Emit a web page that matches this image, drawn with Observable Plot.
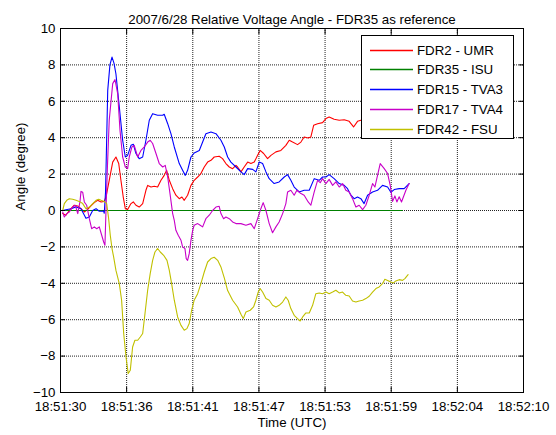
<!DOCTYPE html>
<html>
<head>
<meta charset="utf-8">
<script src="https://cdn.jsdelivr.net/npm/d3@7"></script>
<script src="https://cdn.jsdelivr.net/npm/@observablehq/plot@0.6"></script>
<style>
  html, body { margin: 0; padding: 0; background: #fff; }
  #chart { position: relative; width: 556px; height: 435px; }
</style>
</head>
<body>
<div id="chart"></div>
<script>
// ---- data (seconds after 18:51:30 UTC, angle in degrees) ----
const titleText = "2007/6/28 Relative Voltage Angle - FDR35 as reference";
const xLabel = "Time (UTC)";
const yLabel = "Angle (degree)";
const xTickLabels = ["18:51:30","18:51:36","18:51:41","18:51:47","18:51:53","18:51:59","18:52:04","18:52:10"];
const xTickSeconds = [0, 5.714, 11.429, 17.143, 22.857, 28.571, 34.286, 40];
const yTicks = [-10,-8,-6,-4,-2,0,2,4,6,8,10];

const seriesNames = ["FDR2 - UMR","FDR35 - ISU","FDR15 - TVA3","FDR17 - TVA4","FDR42 - FSU"];
const seriesColors = ["#ff0000","#008000","#0000ff","#c800c8","#c0c000"];

const fdr2T = [0.19,0.47,0.76,1.19,1.49,1.77,2.06,2.35,2.63,2.92,3.21,3.5,3.78,3.93,4.21,4.51,4.79,5.03,5.22,5.42,5.6,5.8,6.09,6.29,6.52,6.8,7.1,7.38,7.53,7.82,8.1,8.39,8.68,8.96,9.17,9.4,9.69,9.97,10.26,10.49,10.69,10.98,11.27,11.55,11.85,12.13,12.42,12.71,13.0,13.28,13.71,14.0,14.29,14.58,14.87,15.16,15.3,15.59,15.87,16.17,16.45,16.74,17.03,17.25,17.55,17.89,18.18,18.61,19.04,19.47,19.76,20.05,20.48,20.77,21.05,21.4,21.63,21.87,22.21,22.64,22.93,23.21,23.64,24.08,24.51,24.94,25.32,25.66,25.95,27.0,28.5,30.1];
const fdr2V = [-0.17,-0.26,0,0.29,0.25,0.1,-0.08,0.06,0.25,0.43,0.56,0.47,0.5,0.74,1.66,2.66,2.94,2.58,1.66,0.74,0.1,0.05,0.38,0.47,0.29,0.19,0.38,1.11,1.38,1.29,1.33,1.29,1.66,1.93,2.21,1.66,1.2,0.84,0.65,0.74,0.56,0.84,1.38,1.66,1.84,2.03,2.39,2.66,2.76,2.94,2.98,2.85,2.58,2.39,2.3,2.48,2.39,2.12,2.39,2.66,2.58,2.66,3.03,3.3,3.13,2.85,3.03,3.22,3.3,3.58,3.86,3.76,3.62,3.76,4.04,3.98,4.04,4.68,4.77,4.83,5.05,5.14,5.01,4.96,4.99,4.9,4.59,4.9,4.96,5.0,5.1,5.0];

const fdr35T = [0.19, 29.53];
const fdr35V = [0, 0];

const fdr15T = [0.19,0.47,0.91,1.34,1.77,2.2,2.49,2.78,3.07,3.35,3.73,3.78,3.89,4.08,4.27,4.45,4.62,4.79,5.08,5.37,5.6,5.8,6.09,6.29,6.52,6.8,7.1,7.38,7.67,7.96,8.39,8.83,8.96,9.26,9.54,9.83,10.26,10.55,10.78,10.98,11.27,11.55,11.99,12.28,12.56,13.0,13.43,13.86,14.15,14.44,14.72,15.16,15.59,15.87,16.17,16.6,16.88,17.17,17.46,17.75,18.03,18.46,18.89,19.33,19.62,19.9,20.19,20.62,21.05,21.49,21.92,22.35,22.64,22.93,23.21,23.64,24.08,24.51,24.8,25.09,25.37,25.66,25.95,26.23,26.53,26.96,27.39,27.82,28.26,28.54,28.83,29.26,29.69,30.12];
const fdr15V = [0,0.04,0.1,0.2,0.1,-0.43,-0.36,0,0.1,-0.04,-0.04,-0.15,1.0,6.6,8.0,8.43,8.1,7.5,5.7,3.86,2.94,3.03,3.58,3.64,3.13,2.85,2.94,3.86,4.96,5.32,5.23,5.23,5.29,4.77,4.22,3.49,2.58,2.21,1.93,2.21,2.94,3.16,3.3,3.76,4.22,4.31,4.22,3.86,3.49,2.94,2.66,2.39,2.12,1.97,2.3,2.26,2.12,2.66,2.58,2.12,1.75,1.48,1.57,1.84,1.97,1.66,1.29,1.02,1.11,1.11,1.75,1.66,1.84,1.84,1.97,1.75,1.48,1.38,1.2,0.84,0.65,0.74,0.65,0.38,0.84,1.02,1.11,1.38,1.29,1.0,1.15,1.2,1.2,1.48];

const fdr17T = [0.19,0.33,0.54,0.76,1.05,1.28,1.49,1.68,1.77,1.92,2.06,2.26,2.49,2.69,2.92,3.13,3.35,3.56,3.73,3.84,3.93,4.06,4.21,4.51,4.71,4.94,5.14,5.37,5.6,5.8,5.94,6.17,6.37,6.67,6.95,7.24,7.53,7.75,7.96,8.25,8.53,8.83,9.05,9.26,9.46,9.69,9.83,9.97,10.17,10.41,10.55,10.75,10.86,10.98,11.12,11.27,11.42,11.55,11.85,12.07,12.28,12.56,12.85,13.14,13.43,13.71,13.86,14.09,14.29,14.58,14.87,15.16,15.59,16.02,16.45,16.74,17.03,17.31,17.51,17.75,18.03,18.32,18.61,18.89,19.19,19.47,19.62,19.9,20.19,20.42,20.77,21.05,21.4,21.63,21.92,22.21,22.44,22.64,22.93,23.21,23.51,23.79,24.08,24.37,24.65,24.94,25.23,25.52,25.8,26.1,26.38,26.67,26.96,27.16,27.39,27.62,27.97,28.26,28.48,28.69,28.89,29.06,29.26,29.46,29.84,30.12];
const fdr17V = [-0.08,-0.36,-0.17,-0.08,0.19,0.29,-0.17,0.47,1.05,1.0,0.47,0.29,-0.45,-1.0,-0.9,-1.0,-0.9,-1.36,-1.73,-1.91,0,2.5,4.96,6.97,7.19,6.42,4.41,2.94,2.39,2.3,2.94,3.49,3.58,2.94,3.3,3.49,3.76,3.86,3.68,3.13,2.58,2.39,2.48,1.84,0.93,-0.17,-0.54,-1.09,-1.36,-1.64,-2.0,-2.09,-2.64,-2.74,-2.37,-1.64,-1.09,-0.81,-0.72,-0.81,-0.9,-0.45,-0.26,0,0.19,0.23,-0.17,-0.45,-0.36,-0.45,-0.63,-0.72,-0.72,-0.81,-0.72,-1.0,-0.45,0.1,0.43,0,-0.72,-1.22,-0.9,-0.63,-0.17,0.38,1.02,1.11,0.84,1.11,0.93,0.84,0.47,0.29,1.02,1.66,1.53,1.75,1.48,1.71,1.38,1.57,1.29,1.48,1.11,1.02,0.65,0.19,0.29,0.05,0.29,0.84,1.48,1.29,1.93,2.58,2.3,2.03,1.4,0.5,0.8,0.47,0.75,0.47,1.11,1.48];

const fdr42T = [0.19,0.33,0.54,0.76,1.05,1.34,1.62,1.92,2.2,2.49,2.78,3.07,3.3,3.5,3.78,3.99,4.16,4.3,4.45,4.59,4.79,5.08,5.28,5.46,5.66,5.85,6.03,6.23,6.43,6.67,6.89,7.1,7.3,7.53,7.75,7.96,8.16,8.39,8.62,8.91,9.2,9.4,9.6,9.83,10.12,10.41,10.69,10.92,11.12,11.33,11.55,11.85,12.13,12.42,12.71,13.0,13.28,13.58,13.86,14.15,14.44,14.87,15.3,15.59,15.79,16.02,16.39,16.68,16.88,17.08,17.25,17.46,17.75,18.03,18.32,18.61,18.89,19.19,19.47,19.67,19.9,20.19,20.48,20.71,20.92,21.2,21.49,21.78,22.06,22.35,22.64,22.93,23.21,23.51,23.79,24.08,24.37,24.65,24.94,25.23,25.52,25.8,26.1,26.38,26.67,26.96,27.25,27.53,27.82,28.02,28.26,28.54,28.77,28.97,29.26,29.55,29.75,30.03];
const fdr42V = [0,0.38,0.56,0.65,0.62,0.56,0.5,0.38,0.1,0.19,0.38,0.56,0.62,0.56,0.5,0.38,-0.45,-1.36,-2.09,-2.55,-3.29,-4.02,-4.93,-6.76,-8.05,-8.96,-8.78,-7.5,-7.13,-7.13,-6.95,-6.76,-5.66,-4.38,-3.47,-2.74,-2.28,-2.09,-2.28,-2.46,-2.74,-3.29,-4.02,-4.93,-5.85,-6.31,-6.58,-6.49,-6.21,-5.48,-4.93,-4.57,-4.02,-3.38,-2.83,-2.64,-2.57,-2.74,-3.1,-3.7,-4.4,-4.93,-5.3,-5.7,-5.94,-5.58,-5.48,-5.3,-4.93,-4.48,-4.29,-4.48,-4.84,-4.93,-5.21,-5.3,-5.21,-5.03,-4.75,-4.93,-5.39,-5.76,-5.94,-6.07,-5.85,-5.63,-5.63,-5.21,-4.57,-4.53,-4.57,-4.48,-4.57,-4.48,-4.38,-4.53,-4.48,-4.66,-4.7,-4.97,-5.03,-4.97,-4.93,-4.84,-4.71,-4.48,-4.29,-4.2,-4.02,-3.78,-3.84,-3.93,-3.98,-3.87,-3.8,-3.84,-3.74,-3.52];

// ---- assemble table ----
const seriesT = [fdr2T, fdr35T, fdr15T, fdr17T, fdr42T];
const seriesV = [fdr2V, fdr35V, fdr15V, fdr17V, fdr42V];
const rows = [];
seriesNames.forEach((name, i) => {
  seriesT[i].forEach((t, j) => rows.push({series: name, t, v: seriesV[i][j]}));
});

const FONT = "'Liberation Sans', Arial, Helvetica, sans-serif";
const FS = "13.3px";

const chart = Plot.plot({
  width: 556,
  height: 435,
  marginLeft: 60,
  marginRight: 33,
  marginTop: 28,
  marginBottom: 43,
  style: {fontFamily: FONT, fontSize: FS, background: "#fff", color: "#000", overflow: "visible"},
  x: {domain: [0, 40], label: null},
  y: {domain: [-10, 10], label: null},
  color: {domain: seriesNames, range: seriesColors},
  marks: [
    Plot.gridX(xTickSeconds, {stroke: "#222", strokeOpacity: 1, strokeDasharray: "1,1"}),
    Plot.gridY(yTicks, {stroke: "#222", strokeOpacity: 1, strokeDasharray: "1,1"}),
    Plot.line(rows, {x: "t", y: "v", z: "series", stroke: "series", strokeWidth: 1.1}),
    // tick labels
    Plot.axisX(xTickSeconds, {anchor: "bottom", tickSize: 0, tickPadding: 9, tickFormat: (d, i) => xTickLabels[i], label: null}),
    Plot.axisY(yTicks, {anchor: "left", tickSize: 0, tickPadding: 5, label: null}),
    // inward tick marks on all four sides
    Plot.axisX(xTickSeconds, {anchor: "bottom", tickSize: 5, dy: -5, tickFormat: () => "", label: null}),
    Plot.axisX(xTickSeconds, {anchor: "top", tickSize: 5, dy: 5, tickFormat: () => "", label: null}),
    Plot.axisY(yTicks, {anchor: "left", tickSize: 5, dx: 5, tickFormat: () => "", label: null}),
    Plot.axisY(yTicks, {anchor: "right", tickSize: 5, dx: -5, tickFormat: () => "", label: null}),
    Plot.frame({stroke: "#000", strokeWidth: 1}),
    Plot.text([titleText], {frameAnchor: "top", dy: -14, fontSize: 13.3}),
    Plot.text([xLabel], {frameAnchor: "bottom", dy: 34, fontSize: 13.3}),
    Plot.text([yLabel], {frameAnchor: "left", dx: -40, rotate: -90, fontSize: 13.3})
  ]
});

document.getElementById("chart").appendChild(chart);

// ---- legend box (drawn on top of the plot, MATLAB style) ----
const svg = d3.select(chart);
const lg = svg.append("g").attr("font-family", FONT).attr("font-size", FS).attr("text-anchor", "start");
const boxX = 361.5, boxY = 35.5, boxW = 152, boxH = 103, rowH = 19.75, row0 = 49.5;
lg.append("rect").attr("x", boxX).attr("y", boxY).attr("width", boxW).attr("height", boxH)
  .attr("fill", "#fff").attr("stroke", "#000").attr("stroke-width", 1);
seriesNames.forEach((name, i) => {
  const yy = Math.round(row0 + i * rowH) + 0.5;
  lg.append("line").attr("x1", 370).attr("x2", 413).attr("y1", yy).attr("y2", yy)
    .attr("stroke", seriesColors[i]).attr("stroke-width", 1.5);
  lg.append("text").attr("x", 417).attr("y", yy).attr("dy", "0.35em")
    .attr("fill", "#000").attr("text-anchor", "start").text(name);
});
</script>
</body>
</html>
